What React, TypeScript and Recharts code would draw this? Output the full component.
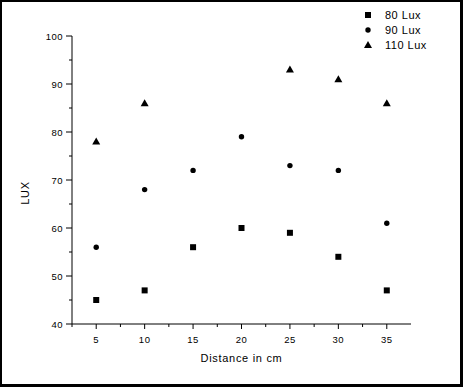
import {
  ScatterChart,
  Scatter,
  XAxis,
  YAxis,
  Legend,
} from "recharts";

const distances = [5, 10, 15, 20, 25, 30, 35];
const lux80 = [45, 47, 56, 60, 59, 54, 47];
const lux90 = [56, 68, 72, 79, 73, 72, 61];
const lux110Distances = [5, 10, 25, 30, 35];
const lux110 = [78, 86, 93, 91, 86];

const xTicks = [2.5, 5, 7.5, 10, 12.5, 15, 17.5, 20, 22.5, 25, 27.5, 30, 32.5, 35];
const yTicks = [40, 45, 50, 55, 60, 65, 70, 75, 80, 85, 90, 95, 100];

const font = "'Liberation Sans', Arial, sans-serif";

const data80 = distances.map((x, i) => ({ x, y: lux80[i] }));
const data90 = distances.map((x, i) => ({ x, y: lux90[i] }));
const data110 = lux110Distances.map((x, i) => ({ x, y: lux110[i] }));

const Square = (p: any) => (
  <rect x={p.cx - 3} y={p.cy - 3} width={6} height={6} fill="#000" />
);
const Dot = (p: any) => <circle cx={p.cx} cy={p.cy} r={2.7} fill="#000" />;
const Tri = (p: any) => (
  <path
    d={`M${p.cx},${p.cy - 4}L${p.cx + 4},${p.cy + 3}L${p.cx - 4},${p.cy + 3}Z`}
    fill="#000"
  />
);

const XTick = (p: any) => {
  const v = p.payload.value;
  const major = v % 5 === 0;
  return (
    <g>
      <line x1={p.x} x2={p.x} y1={p.y} y2={p.y + (major ? 5 : 3)} stroke="#000" />
      {major && (
        <text
          x={p.x}
          y={p.y + 19}
          textAnchor="middle"
          fontSize={9.5}
          letterSpacing={0.5}
          fontFamily={font}
          fill="#000"
        >
          {v}
        </text>
      )}
    </g>
  );
};

const YTick = (p: any) => {
  const v = p.payload.value;
  const major = v % 10 === 0;
  return (
    <g>
      <line x1={p.x - (major ? 6 : 3)} x2={p.x} y1={p.y} y2={p.y} stroke="#000" />
      {major && (
        <text
          x={p.x - 9}
          y={p.y + 3.5}
          textAnchor="end"
          fontSize={9.5}
          letterSpacing={0.5}
          fontFamily={font}
          fill="#000"
        >
          {v}
        </text>
      )}
    </g>
  );
};

const legendItems = [
  { name: "80 Lux", Shape: Square },
  { name: "90 Lux", Shape: Dot },
  { name: "110 Lux", Shape: Tri },
];

const LegendContent = () => (
  <div style={{ fontFamily: font, fontSize: 11, letterSpacing: 0.5 }}>
    {legendItems.map(({ name, Shape }) => (
      <div key={name} style={{ display: "flex", alignItems: "center", height: 15 }}>
        <svg width={12} height={12} style={{ marginRight: 11 }}>
          <Shape cx={6} cy={6} />
        </svg>
        <span>{name}</span>
      </div>
    ))}
  </div>
);

export default function App() {
  return (
    <div style={{ position: "absolute", top: 0, left: 0, width: 463, height: 387, background: "#fff" }}>
      <ScatterChart
        width={463}
        height={387}
        margin={{ top: 36, right: 52, left: 0, bottom: 0 }}
      >
        <XAxis
          type="number"
          dataKey="x"
          domain={[2.5, 37.5]}
          ticks={xTicks}
          interval={0}
          height={63}
          tickSize={0}
          tickMargin={0}
          tickLine={false}
          tick={<XTick />}
          axisLine={{ stroke: "#000" }}
          label={{
            content: (props: any) => {
              const vb = props.viewBox;
              return (
                <text
                  x={vb.x + vb.width / 2}
                  y={vb.y + 38}
                  textAnchor="middle"
                  fontSize={11}
                  letterSpacing={0.7}
                  fontFamily={font}
                  fill="#000"
                >
                  Distance in cm
                </text>
              );
            },
          }}
        />
        <YAxis
          type="number"
          dataKey="y"
          domain={[40, 100]}
          ticks={yTicks}
          interval={0}
          width={72}
          tickSize={0}
          tickMargin={0}
          tickLine={false}
          tick={<YTick />}
          axisLine={{ stroke: "#000" }}
          label={{
            content: (props: any) => {
              const vb = props.viewBox;
              const cx = 25;
              const cy = vb.y + vb.height / 2 + 13;
              return (
                <text
                  x={cx}
                  y={cy}
                  transform={`rotate(-90, ${cx}, ${cy})`}
                  textAnchor="middle"
                  dominantBaseline="central"
                  fontSize={11}
                  letterSpacing={0.7}
                  fontFamily={font}
                  fill="#000"
                >
                  LUX
                </text>
              );
            },
          }}
        />
        <Legend
          layout="horizontal"
          verticalAlign="middle"
          align="center"
          content={<LegendContent />}
          wrapperStyle={{ top: 7, left: 362, width: 100 }}
        />
        <Scatter name="80 Lux" data={data80} shape={<Square />} isAnimationActive={false} />
        <Scatter name="90 Lux" data={data90} shape={<Dot />} isAnimationActive={false} />
        <Scatter name="110 Lux" data={data110} shape={<Tri />} isAnimationActive={false} />
      </ScatterChart>
      <div
        style={{
          position: "absolute",
          inset: 0,
          borderStyle: "solid",
          borderColor: "#000",
          borderWidth: "2px 3px 3px 2px",
          pointerEvents: "none",
        }}
      />
    </div>
  );
}
